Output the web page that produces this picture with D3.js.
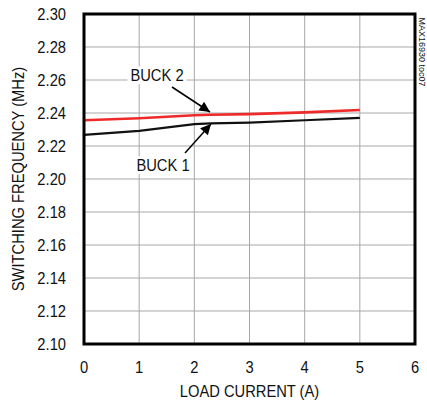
<!DOCTYPE html>
<html>
<head>
<meta charset="utf-8">
<script src="https://cdn.jsdelivr.net/npm/d3@7"></script>
<style>
  body { margin: 0; background: #fff; }
  text { font-family: "Liberation Sans", Arial, sans-serif; fill: #111; }
</style>
</head>
<body>
<svg id="chart"></svg>
<script>
const loadCurrent = [0, 1, 2, 2.3, 3, 4, 5];
const buck1 = [2.2268, 2.2292, 2.2332, 2.2337, 2.2342, 2.2356, 2.237];
const buck2 = [2.2356, 2.2368, 2.2386, 2.2389, 2.2393, 2.2404, 2.2418];
const xTicks = [0, 1, 2, 3, 4, 5, 6];
const yTicks = [2.10, 2.12, 2.14, 2.16, 2.18, 2.20, 2.22, 2.24, 2.26, 2.28, 2.30];

const width = 427;
const height = 404;
const margin = { top: 14, right: 12, bottom: 60, left: 84 };
const squeeze = 0.92;

const x = d3.scaleLinear().domain([0, 6]).range([margin.left, width - margin.right]);
const y = d3.scaleLinear().domain([2.10, 2.30]).range([height - margin.bottom, margin.top]);

const svg = d3.select("#chart").attr("width", width).attr("height", height);

// grid
svg.append("g")
  .selectAll("line")
  .data(xTicks.slice(1, -1))
  .join("line")
  .attr("x1", d => x(d)).attr("x2", d => x(d))
  .attr("y1", y(2.10)).attr("y2", y(2.30))
  .attr("stroke", "#a8a8a8").attr("stroke-width", 1);

svg.append("g")
  .selectAll("line")
  .data(yTicks.slice(1, -1))
  .join("line")
  .attr("x1", x(0)).attr("x2", x(6))
  .attr("y1", d => y(d)).attr("y2", d => y(d))
  .attr("stroke", "#a8a8a8").attr("stroke-width", 1);

// tick labels
svg.append("g")
  .selectAll("text")
  .data(yTicks)
  .join("text")
  .attr("transform", d => `translate(66, ${y(d) + 6}) scale(${squeeze}, 1)`)
  .attr("text-anchor", "end")
  .attr("font-size", 16)
  .text(d => d3.format(".2f")(d));

svg.append("g")
  .selectAll("text")
  .data(xTicks)
  .join("text")
  .attr("transform", d => `translate(${x(d)}, 373) scale(${squeeze}, 1)`)
  .attr("text-anchor", "middle")
  .attr("font-size", 16)
  .text(d => d);

// axis titles
svg.append("text")
  .attr("transform", `translate(${(x(0) + x(6)) / 2}, 397) scale(${squeeze}, 1)`)
  .attr("text-anchor", "middle")
  .attr("font-size", 16)
  .text("LOAD CURRENT (A)");

svg.append("text")
  .attr("transform", `translate(24, ${(y(2.10) + y(2.30)) / 2}) rotate(-90) scale(${squeeze}, 1)`)
  .attr("text-anchor", "middle")
  .attr("font-size", 16)
  .text("SWITCHING FREQUENCY (MHz)");

svg.append("text")
  .attr("transform", `translate(419, 52) rotate(90)`)
  .attr("text-anchor", "middle")
  .attr("font-size", 9)
  .text("MAX16930 toc07");

// lines
const line = d3.line()
  .x(d => x(d[0]))
  .y(d => y(d[1]));

svg.append("path")
  .datum(loadCurrent.map((c, i) => [c, buck1[i]]))
  .attr("d", line)
  .attr("fill", "none")
  .attr("stroke", "#111")
  .attr("stroke-width", 2.2);

svg.append("path")
  .datum(loadCurrent.map((c, i) => [c, buck2[i]]))
  .attr("d", line)
  .attr("fill", "none")
  .attr("stroke", "#ee2a2a")
  .attr("stroke-width", 2.6);

// frame
svg.append("rect")
  .attr("x", x(0)).attr("y", y(2.30))
  .attr("width", x(6) - x(0)).attr("height", y(2.10) - y(2.30))
  .attr("fill", "none")
  .attr("stroke", "#000")
  .attr("stroke-width", 3);

// annotations
svg.append("defs").append("marker")
  .attr("id", "arr")
  .attr("viewBox", "0 0 10 10")
  .attr("refX", 10).attr("refY", 5)
  .attr("markerWidth", 9).attr("markerHeight", 7)
  .attr("markerUnits", "strokeWidth")
  .attr("orient", "auto")
  .append("path")
  .attr("d", "M0,0 L10,5 L0,10 Z")
  .attr("fill", "#000");

const notes = [
  { label: "BUCK 2", tx: 157, ty: 81, from: [172, 87], to: [210, 112] },
  { label: "BUCK 1", tx: 163, ty: 171, from: [185, 153], to: [211, 124] }
];

notes.forEach(n => {
  const t = svg.append("text")
    .attr("transform", `translate(${n.tx}, ${n.ty}) scale(${squeeze}, 1)`)
    .attr("text-anchor", "middle")
    .attr("font-size", 16)
    .text(n.label);
  const bb = t.node().getBBox();
  const w = bb.width * squeeze;
  svg.insert("rect", () => t.node())
    .attr("x", n.tx - w / 2 - 3).attr("y", n.ty + bb.y)
    .attr("width", w + 6).attr("height", bb.height)
    .attr("fill", "#fff");
  svg.append("line")
    .attr("x1", n.from[0]).attr("y1", n.from[1])
    .attr("x2", n.to[0]).attr("y2", n.to[1])
    .attr("stroke", "#000")
    .attr("stroke-width", 1.5)
    .attr("marker-end", "url(#arr)");
});
</script>
</body>
</html>
